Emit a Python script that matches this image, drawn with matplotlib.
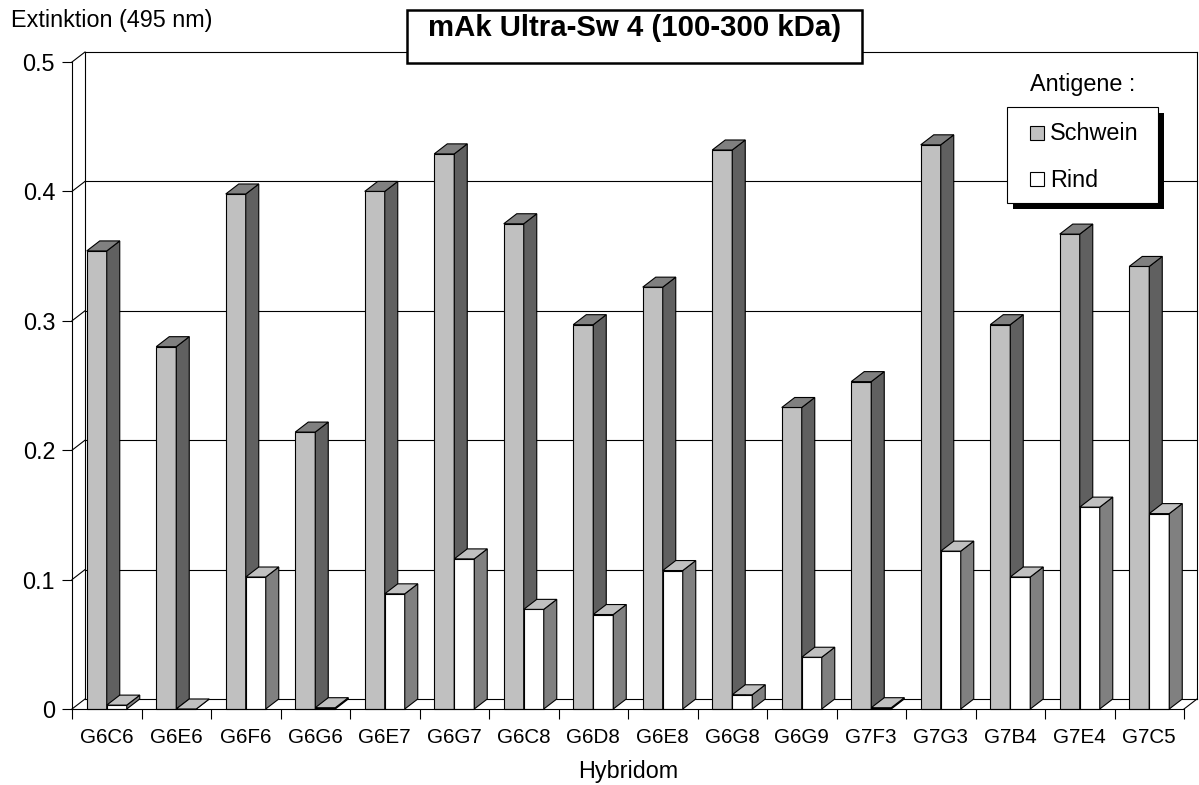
import numpy as np
import matplotlib
matplotlib.use("Agg")
import matplotlib.pyplot as plt
from matplotlib.patches import Polygon, Rectangle

plt.rcParams['font.family'] = ['Liberation Sans', 'DejaVu Sans']

# Extinktion bei 495 nm je Hybridom
hybridome = ["G6C6", "G6E6", "G6F6", "G6G6", "G6E7", "G6G7", "G6C8", "G6D8",
             "G6E8", "G6G8", "G6G9", "G7F3", "G7G3", "G7B4", "G7E4", "G7C5"]
schwein = [0.354, 0.280, 0.398, 0.214, 0.400, 0.429, 0.375, 0.297,
           0.326, 0.432, 0.233, 0.253, 0.436, 0.297, 0.367, 0.342]
rind = [0.003, 0.000, 0.102, 0.001, 0.089, 0.116, 0.077, 0.073,
        0.107, 0.011, 0.040, 0.001, 0.122, 0.102, 0.156, 0.151]
yticks = [0, 0.1, 0.2, 0.3, 0.4, 0.5]
yticklabels = ["0", "0.1", "0.2", "0.3", "0.4", "0.5"]

W, H = 1199, 785
fig = plt.figure(figsize=(W / 100, H / 100), dpi=100)
ax = fig.add_axes([72 / W, (H - 709) / H, 1112 / W, 647 / H])
n = len(hybridome)
ax.set_xlim(0, n)
ax.set_ylim(0, 0.5)

# Tiefe der Pseudo-3D-Darstellung in Datenkoordinaten
dx = 13 / (1112 / n)
dy = 10 / (647 / 0.5)
lw = 0.8

def fpx(x, y):
    return x / W, 1 - y / H

# Rueckwand, Seitenwand, Boden
ymax = 0.5
for v in yticks:
    ax.plot([0, dx], [v, v + dy], color='k', lw=lw, clip_on=False, zorder=1)
    if 0 < v:
        ax.plot([dx, n + dx], [v + dy, v + dy], color='k', lw=lw, clip_on=False, zorder=1)
ax.plot([dx, dx], [dy, ymax + dy], color='k', lw=lw, clip_on=False, zorder=1)
ax.plot([n + dx, n + dx], [dy, ymax + dy], color='k', lw=lw, clip_on=False, zorder=1)
ax.plot([dx, n + dx], [dy, dy], color='k', lw=lw, clip_on=False, zorder=1)
ax.plot([n, n + dx], [0, dy], color='k', lw=lw, clip_on=False, zorder=1)

# Saeulen
bw = 20 / (1112 / n)

def saeule(x0, v, front, seite, oben):
    x1 = x0 + bw
    ax.add_patch(Rectangle((x0, 0), bw, v, facecolor=front, edgecolor='k',
                           lw=lw, zorder=3, clip_on=False))
    ax.add_patch(Polygon([(x1, 0), (x1 + dx, dy), (x1 + dx, v + dy), (x1, v)],
                         facecolor=seite, edgecolor='k', lw=lw, zorder=3, clip_on=False))
    ax.add_patch(Polygon([(x0, v), (x0 + dx, v + dy), (x1 + dx, v + dy), (x1, v)],
                         facecolor=oben, edgecolor='k', lw=lw, zorder=3, clip_on=False))

for i in range(n):
    c = i + 0.5
    saeule(c - bw, schwein[i], '#c0c0c0', '#606060', '#808080')
    saeule(c, rind[i], '#ffffff', '#808080', '#c0c0c0')

# Achsen
for s in ['top', 'right']:
    ax.spines[s].set_visible(False)
for s in ['left', 'bottom']:
    ax.spines[s].set_linewidth(lw)
    ax.spines[s].set_zorder(4)
ax.set_yticks(yticks)
ax.set_yticklabels(yticklabels, fontsize=16.8)
ax.tick_params(axis='y', length=7.2, width=lw, pad=5)
ax.set_xticks(np.arange(n + 1))
ax.set_xticklabels([])
ax.tick_params(axis='x', which='major', length=7.2, width=lw)
ax.set_xticks(np.arange(n) + 0.5, minor=True)
ax.set_xticklabels(hybridome, minor=True, fontsize=14.9)
ax.tick_params(axis='x', which='minor', length=0, pad=13.5)
ax.set_facecolor('none')

fig.text(*fpx(11, 27.5), "Extinktion (495 nm)", fontsize=16.8, va='baseline', ha='left')
fig.text(*fpx(628, 778), "Hybridom", fontsize=16.8, va='baseline', ha='center')

# Titelkasten
tx0, ty0 = fpx(407, 63)
fig.patches.append(Rectangle((tx0, ty0), 455 / W, 53 / H, transform=fig.transFigure,
                             facecolor='white', edgecolor='k', lw=1.8, zorder=5))
fig.text(*fpx(634.5, 36), "mAk Ultra-Sw 4 (100-300 kDa)", fontsize=21.2,
         fontweight='bold', va='baseline', ha='center', zorder=6)

# Legende
fig.text(*fpx(1030, 91.5), "Antigene :", fontsize=16.8, va='baseline', ha='left')
lx0, ly0 = fpx(1013, 209)
fig.patches.append(Rectangle((lx0, ly0), 151 / W, 96 / H, transform=fig.transFigure,
                             facecolor='k', edgecolor='k', lw=0, zorder=5))
lx0, ly0 = fpx(1007, 203)
fig.patches.append(Rectangle((lx0, ly0), 151 / W, 96 / H, transform=fig.transFigure,
                             facecolor='white', edgecolor='k', lw=lw, zorder=5))
for name, col, yb in [("Schwein", '#c0c0c0', 140.5), ("Rind", '#ffffff', 187.3)]:
    mx, my = fpx(1029.5, yb - 1)
    fig.patches.append(Rectangle((mx, my), 14 / W, 14 / H, transform=fig.transFigure,
                                 facecolor=col, edgecolor='k', lw=lw, zorder=6))
    fig.text(*fpx(1050, yb), name, fontsize=16.8, va='baseline', ha='left', zorder=6)

fig.savefig("out.png", dpi=100)
